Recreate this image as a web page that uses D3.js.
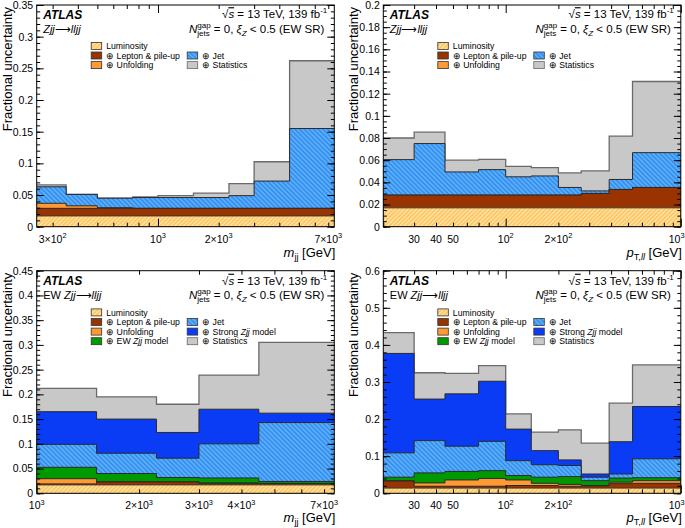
<!DOCTYPE html>
<html><head><meta charset="utf-8">
<script src="https://cdn.jsdelivr.net/npm/d3@7"></script>
<style>
html,body{margin:0;padding:0;background:#fff;}
svg{display:block;font-family:"Liberation Sans", Arial, Helvetica, sans-serif;}
</style></head><body>
<svg id="c" width="685" height="528"></svg>
<script>
// ---------------- DATA ----------------
// Inclusive Zjj, m_jj (GeV) — cumulative (quadrature) fractional uncertainties
const inclMjjEdges = [250, 350, 500, 750, 1000, 1500, 2250, 3000, 4500, 7500];
const inclMjjLumi  = [0.017, 0.017, 0.017, 0.017, 0.017, 0.017, 0.017, 0.017, 0.017];
const inclMjjLep   = [0.029, 0.029, 0.029, 0.029, 0.029, 0.029, 0.029, 0.029, 0.029];
const inclMjjUnf   = [0.037, 0.033, 0.030, 0.029, 0.029, 0.029, 0.029, 0.029, 0.029];
const inclMjjJet   = [0.063, 0.051, 0.045, 0.046, 0.046, 0.046, 0.049, 0.072, 0.155];
const inclMjjStat  = [0.066, 0.051, 0.045, 0.047, 0.049, 0.053, 0.068, 0.1025, 0.262];

// Inclusive Zjj, pT,ll (GeV)
const inclPtEdges = [20, 30, 45, 70, 100, 140, 200, 270, 390, 530, 1000];
const inclPtLumi  = [0.017, 0.017, 0.017, 0.017, 0.017, 0.017, 0.017, 0.017, 0.017, 0.017];
const inclPtLep   = [0.0285, 0.0285, 0.0285, 0.0285, 0.0285, 0.0285, 0.0285, 0.030, 0.0336, 0.0354];
const inclPtUnf   = [0.0285, 0.0285, 0.0285, 0.0285, 0.0285, 0.0285, 0.0285, 0.030, 0.0336, 0.0354];
const inclPtJet   = [0.0605, 0.075, 0.0494, 0.0515, 0.045, 0.0458, 0.0354, 0.0323, 0.0426, 0.0668];
const inclPtStat  = [0.080, 0.0853, 0.060, 0.0608, 0.0545, 0.0533, 0.0485, 0.0503, 0.0817, 0.131];

// EW Zjj, m_jj (GeV)
const ewMjjEdges  = [1000, 1500, 2250, 3000, 4500, 7500];
const ewMjjLumi   = [0.017, 0.017, 0.017, 0.017, 0.017];
const ewMjjLep    = [0.019, 0.023, 0.023, 0.020, 0.020];
const ewMjjUnf    = [0.0296, 0.023, 0.023, 0.021, 0.020];
const ewMjjEW     = [0.0526, 0.040, 0.032, 0.031, 0.024];
const ewMjjJet    = [0.099, 0.081, 0.071, 0.100, 0.143];
const ewMjjStrong = [0.165, 0.150, 0.123, 0.170, 0.162];
const ewMjjStat   = [0.212, 0.195, 0.180, 0.239, 0.305];

// EW Zjj, pT,ll (GeV)
const ewPtEdges  = [20, 30, 45, 70, 100, 140, 200, 270, 390, 530, 1000];
const ewPtLumi   = [0.014, 0.014, 0.014, 0.014, 0.014, 0.014, 0.014, 0.014, 0.014, 0.014];
const ewPtLep    = [0.033, 0.019, 0.019, 0.019, 0.021, 0.021, 0.019, 0.020, 0.026, 0.027];
const ewPtUnf    = [0.034, 0.028, 0.036, 0.040, 0.036, 0.027, 0.024, 0.021, 0.030, 0.034];
const ewPtEW     = [0.0435, 0.055, 0.059, 0.061, 0.048, 0.0435, 0.045, 0.034, 0.041, 0.042];
const ewPtJet    = [0.109, 0.142, 0.127, 0.140, 0.088, 0.077, 0.075, 0.0435, 0.052, 0.093];
const ewPtStrong = [0.377, 0.254, 0.268, 0.302, 0.173, 0.115, 0.090, 0.052, 0.139, 0.234];
const ewPtStat   = [0.433, 0.325, 0.323, 0.344, 0.214, 0.165, 0.171, 0.135, 0.243, 0.346];

// Tick labels: [value, mantissa text, exponent]
const inclMjjTicks = [[300, '3×10', '2'], [1000, '10', '3'], [2000, '2×10', '3'], [7000, '7×10', '3']];
const ptTicks      = [[30, '30', ''], [40, '40', ''], [50, '50', ''], [100, '10', '2'], [200, '2×10', '2'], [1000, '10', '3']];
const ewMjjTicks   = [[1000, '10', '3'], [2000, '2×10', '3'], [3000, '3×10', '3'], [4000, '4×10', '3'], [7000, '7×10', '3']];

// ---------------- STYLE / LAYOUT ----------------
const svg = d3.select('#c');
const defs = svg.append('defs');
const W = 685;

function hatch(id, base, line, angle, size, lw) {
  const p = defs.append('pattern').attr('id', id).attr('patternUnits', 'userSpaceOnUse')
    .attr('width', size).attr('height', size).attr('patternTransform', `rotate(${angle})`);
  p.append('rect').attr('width', size).attr('height', size).attr('fill', base);
  p.append('line').attr('x1', size / 2).attr('x2', size / 2).attr('y1', -1).attr('y2', size + 1)
    .attr('stroke', line).attr('stroke-width', lw);
}
hatch('hLumi', '#fdc865', '#ffe8b4', 45, 3, 1);
hatch('hJet', '#56b0ff', '#2272d8', -45, 3.3, 0.9);

const compStyle = {
  lumi:   {fill: 'url(#hLumi)', stroke: '#3a3a3a', label: [{t: 'Luminosity'}]},
  lep:    {fill: '#993300', stroke: '#2a2a2a', label: [{t: '⊕ Lepton & pile-up'}]},
  unf:    {fill: '#ff9933', stroke: '#2a2a2a', label: [{t: '⊕ Unfolding'}]},
  ew:     {fill: '#009a00', stroke: '#2a2a2a', label: [{t: '⊕ EW '}, {t: 'Zjj', it: true}, {t: ' model'}]},
  jet:    {fill: 'url(#hJet)', stroke: '#2a2a2a', label: [{t: '⊕ Jet'}]},
  strong: {fill: '#0b3cf5', stroke: '#2a2a2a', label: [{t: '⊕ Strong '}, {t: 'Zjj', it: true}, {t: ' model'}]},
  stat:   {fill: '#c8c8c8', stroke: '#6a6a6a', label: [{t: '⊕ Statistics'}]}
};

const legendIncl = [['lumi', 0, 0], ['lep', 0, 1], ['unf', 0, 2], ['jet', 1, 1], ['stat', 1, 2]];
const legendEW = [['lumi', 0, 0], ['lep', 0, 1], ['unf', 0, 2], ['ew', 0, 3], ['jet', 1, 1], ['strong', 1, 2], ['stat', 1, 3]];

const mjjTitle = [{t: 'm', it: true}, {t: 'jj', sub: true}, {t: '  [GeV]'}];
const ptTitle = [{t: 'p', it: true}, {t: 'T,', sub: true}, {t: 'll', sub: true, it: true}, {t: '  [GeV]'}];
const procIncl = [{t: 'Zjj', it: true}, {t: '⟶'}, {t: 'lljj', it: true}];
const procEW = [{t: 'EW '}, {t: 'Zjj', it: true}, {t: '⟶'}, {t: 'lljj', it: true}];

const panels = [
  {L: {fx0: 36.7, fx1: 334.3, fy0: 5, fy1: 226.7}, edges: inclMjjEdges, xDom: [250, 7500], yMax: 0.35, yStep: 0.05, yMinor: 5,
   comps: [['stat', inclMjjStat], ['jet', inclMjjJet], ['unf', inclMjjUnf], ['lep', inclMjjLep], ['lumi', inclMjjLumi]],
   ticks: inclMjjTicks, xTitle: mjjTitle, proc: procIncl, legend: legendIncl},
  {L: {fx0: 383.3, fx1: 680.8, fy0: 5, fy1: 226.7}, edges: inclPtEdges, xDom: [20, 1000], yMax: 0.2, yStep: 0.02, yMinor: 4,
   comps: [['stat', inclPtStat], ['jet', inclPtJet], ['unf', inclPtUnf], ['lep', inclPtLep], ['lumi', inclPtLumi]],
   ticks: ptTicks, xTitle: ptTitle, proc: procIncl, legend: legendIncl},
  {L: {fx0: 36.7, fx1: 334.3, fy0: 270.7, fy1: 493.3}, edges: ewMjjEdges, xDom: [1000, 7500], yMax: 0.45, yStep: 0.05, yMinor: 5,
   comps: [['stat', ewMjjStat], ['strong', ewMjjStrong], ['jet', ewMjjJet], ['ew', ewMjjEW], ['unf', ewMjjUnf], ['lep', ewMjjLep], ['lumi', ewMjjLumi]],
   ticks: ewMjjTicks, xTitle: mjjTitle, proc: procEW, legend: legendEW},
  {L: {fx0: 383.3, fx1: 680.8, fy0: 270.7, fy1: 493.3}, edges: ewPtEdges, xDom: [20, 1000], yMax: 0.6, yStep: 0.1, yMinor: 5,
   comps: [['stat', ewPtStat], ['strong', ewPtStrong], ['jet', ewPtJet], ['ew', ewPtEW], ['unf', ewPtUnf], ['lep', ewPtLep], ['lumi', ewPtLumi]],
   ticks: ptTicks, xTitle: ptTitle, proc: procEW, legend: legendEW}
];

// rich text helper (sup/sub/stacked)
function rich(parent, x, y, segs, opts) {
  const size = opts.size;
  const t = parent.append('text').attr('x', x).attr('y', y).attr('font-size', size)
    .attr('text-anchor', opts.anchor || 'start').attr('fill', '#000');
  if (opts.transform) t.attr('transform', opts.transform);
  let cur = 0, prevNode = null, pending = 0;
  const subK = opts.subK || 0.3;
  segs.forEach(s => {
    const small = s.sup || s.sub;
    const fs = small ? size * (s.scale || 0.7) : size;
    const shift = s.sup ? -size * 0.42 : s.sub ? size * subK : 0;
    const ts = t.append('tspan').attr('font-size', fs).text(s.t);
    if (shift - cur) ts.attr('dy', shift - cur);
    cur = shift;
    if (s.it) ts.attr('font-style', 'italic');
    if (s.b) ts.attr('font-weight', 'bold');
    if (s.ov) ts.attr('text-decoration', 'overline');
    let dx = pending; pending = 0;
    let wPrev = 0;
    if (s.back && prevNode) { wPrev = prevNode.getComputedTextLength(); dx -= wPrev; }
    if (dx) ts.attr('dx', dx);
    if (s.back) { const w = ts.node().getComputedTextLength(); if (wPrev > w) pending = wPrev - w; }
    prevNode = ts.node();
  });
  return t;
}

panels.forEach((P, pi) => {
  const L = P.L;
  const g = svg.append('g');
  const x = d3.scaleLog().domain(P.xDom).range([L.fx0, L.fx1]);
  const y = d3.scaleLinear().domain([0, P.yMax]).range([L.fy1, L.fy0]);

  const clipId = 'clip' + pi;
  defs.append('clipPath').attr('id', clipId).append('rect')
    .attr('x', L.fx0).attr('y', L.fy0).attr('width', L.fx1 - L.fx0).attr('height', L.fy1 - L.fy0);
  const plot = g.append('g').attr('clip-path', `url(#${clipId})`);

  // histograms, back to front
  P.comps.forEach(([key, vals]) => {
    const st = compStyle[key];
    const pts = P.edges.map((e, i) => ({x: e, v: vals[Math.min(i, vals.length - 1)]}));
    const area = d3.area().curve(d3.curveStepAfter).x(d => x(d.x)).y0(y(0)).y1(d => y(d.v));
    const line = d3.line().curve(d3.curveStepAfter).x(d => x(d.x)).y(d => y(d.v));
    plot.append('path').attr('d', area(pts)).attr('fill', st.fill);
    plot.append('path').attr('d', line(pts)).attr('fill', 'none').attr('stroke', st.stroke)
      .attr('stroke-width', key === 'stat' ? 1.3 : 1);
  });

  // ticks
  const [d0, d1] = P.xDom;
  const logTicks = [];
  for (let e = Math.floor(Math.log10(d0)); e <= Math.ceil(Math.log10(d1)); e++)
    for (let m = 1; m <= 9; m++) { const v = m * Math.pow(10, e); if (v >= d0 * 0.999 && v <= d1 * 1.001) logTicks.push(v); }
  const isMajor = v => Math.abs(Math.log10(v) - Math.round(Math.log10(v))) < 1e-6;
  const xMinor = logTicks.filter(v => !isMajor(v)), xMajor = logTicks.filter(isMajor);
  const nY = Math.round(P.yMax / P.yStep);
  const yMajor = d3.range(0, nY + 1).map(i => +(i * P.yStep).toFixed(5));
  const yMinorV = d3.range(0, nY * P.yMinor + 1).map(i => +(i * P.yStep / P.yMinor).toFixed(6));

  const axG = g.append('g');
  const clean = s => s.call(q => q.select('.domain').remove()).selectAll('line').attr('stroke', '#000');
  axG.append('g').attr('transform', `translate(0,${L.fy1})`).call(d3.axisBottom(x).tickValues(xMinor).tickSize(-4).tickFormat('')).call(clean);
  axG.append('g').attr('transform', `translate(0,${L.fy1})`).call(d3.axisBottom(x).tickValues(xMajor).tickSize(-8).tickFormat('')).call(clean);
  axG.append('g').attr('transform', `translate(0,${L.fy0})`).call(d3.axisTop(x).tickValues(xMinor).tickSize(-4).tickFormat('')).call(clean);
  axG.append('g').attr('transform', `translate(0,${L.fy0})`).call(d3.axisTop(x).tickValues(xMajor).tickSize(-8).tickFormat('')).call(clean);
  axG.append('g').attr('transform', `translate(${L.fx0},0)`).call(d3.axisLeft(y).tickValues(yMinorV).tickSize(-3.5).tickFormat('')).call(clean);
  axG.append('g').attr('transform', `translate(${L.fx1},0)`).call(d3.axisRight(y).tickValues(yMinorV).tickSize(-3.5).tickFormat('')).call(clean);
  axG.append('g').attr('transform', `translate(${L.fx1},0)`).call(d3.axisRight(y).tickValues(yMajor).tickSize(-7).tickFormat('')).call(clean);
  const yl = axG.append('g').attr('transform', `translate(${L.fx0},0)`)
    .call(d3.axisLeft(y).tickValues(yMajor).tickSize(-7).tickPadding(3.5).tickFormat(v => String(+v.toFixed(4))));
  yl.select('.domain').remove();
  yl.selectAll('line').attr('stroke', '#000');
  yl.attr('font-size', null).attr('font-family', null);
  yl.selectAll('text').attr('font-size', 10.5).attr('fill', '#000');

  // frame
  g.append('rect').attr('x', L.fx0).attr('y', L.fy0).attr('width', L.fx1 - L.fx0).attr('height', L.fy1 - L.fy0)
    .attr('fill', 'none').attr('stroke', '#000').attr('stroke-width', 1);

  // x tick labels
  P.ticks.forEach(([v, m, ex]) => {
    const segs = [{t: m}];
    if (ex) segs.push({t: ex, sup: true});
    const t = rich(g, x(v), L.fy1 + 16, segs, {size: 10.5, anchor: 'middle'});
    const bb = t.node().getBBox();
    if (bb.x + bb.width > W - 0.5) t.attr('x', x(v) - (bb.x + bb.width - (W - 0.5)));
  });

  // axis titles
  rich(g, L.fx1 + 1, L.fy1 + (pi < 2 ? 30.5 : 29), P.xTitle, {size: 13, anchor: 'end', subK: 0.24});
  const yx = L.fx0 - 25, yy = L.fy0 + 2;
  rich(g, 0, 0, [{t: 'Fractional uncertainty'}], {size: 13, anchor: 'end', transform: `translate(${yx},${yy}) rotate(-90)`});

  // labels
  const ty = L.fy0 - (pi < 2 ? 0.8 : 0);
  rich(g, L.fx0 + 6.5, ty + 14.3, [{t: 'ATLAS', b: true, it: true}], {size: 12});
  rich(g, L.fx0 + 6.5, ty + 28.5, P.proc, {size: 11});
  rich(g, L.fx1 - 7, ty + 14, [{t: '√'}, {t: 's', it: true, ov: true}, {t: ' = 13 TeV, 139 fb'}, {t: '-1', sup: true}], {size: 11.5, anchor: 'end'});
  rich(g, L.fx1 - 10, ty + 28.3, [{t: 'N', it: true}, {t: 'gap', sup: true}, {t: 'jets', sub: true, back: true},
    {t: ' = 0, '}, {t: 'ξ', it: true}, {t: 'Z', sub: true, it: true}, {t: ' < 0.5 (EW SR)'}], {size: 11.5, anchor: 'end'});

  // legend
  P.legend.forEach(([key, col, row]) => {
    const st = compStyle[key];
    const bx = L.fx0 + (col ? 150.5 : 54.5);
    const cy = ty + 41.7 + row * 9.6;
    g.append('rect').attr('x', bx).attr('y', cy - 3.5).attr('width', 10.5).attr('height', 7)
      .attr('fill', st.fill).attr('stroke', key === 'stat' ? '#6a6a6a' : '#333').attr('stroke-width', 0.8);
    rich(g, bx + 15, cy + 3.1, st.label, {size: 8.7});
  });
});
</script>
</body></html>
